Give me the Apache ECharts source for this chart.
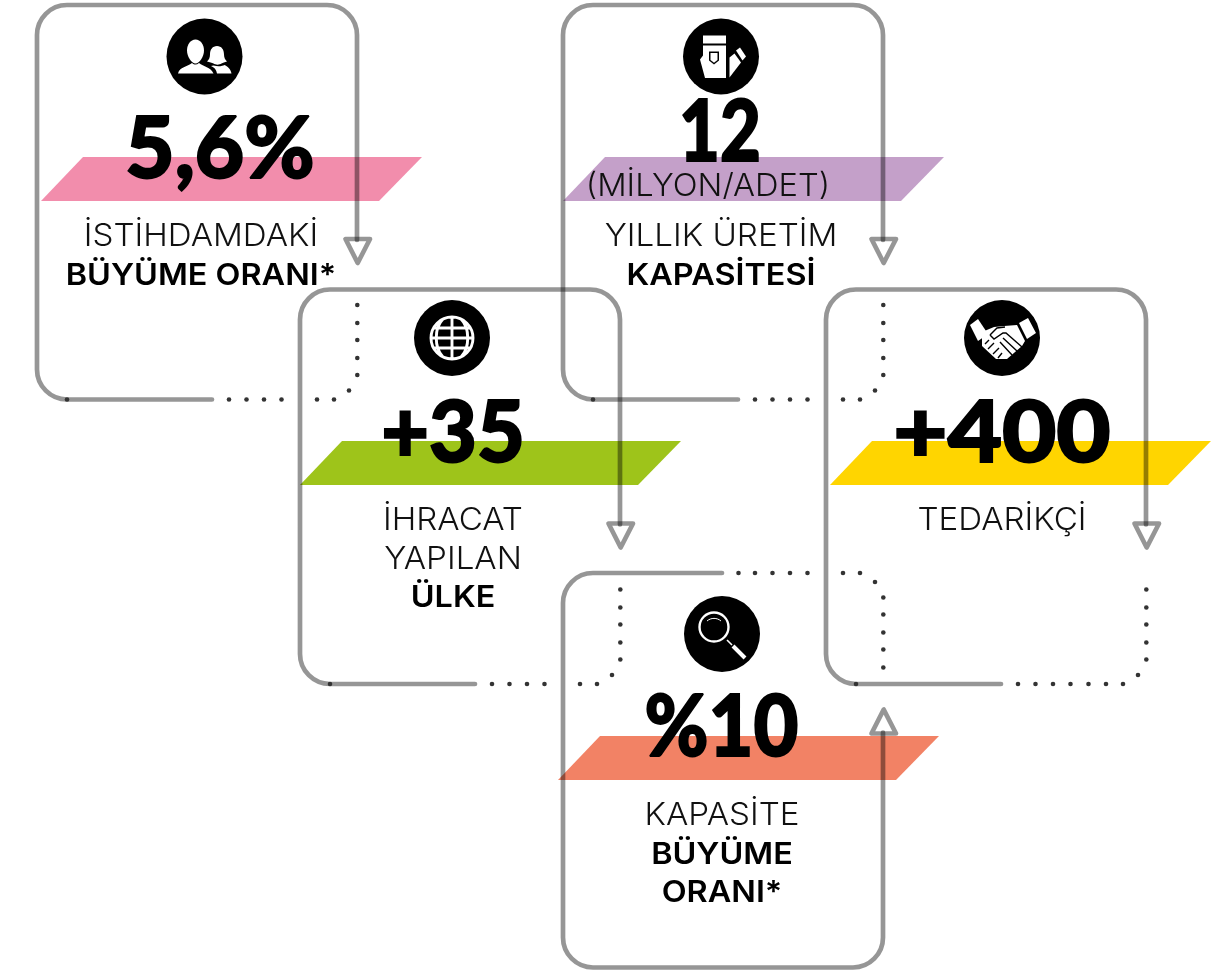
<!DOCTYPE html>
<html>
<head>
<meta charset="utf-8">
<script src="https://cdn.jsdelivr.net/npm/echarts@6/dist/echarts.min.js"></script>
<style>
html, body { margin: 0; padding: 0; background: #fff; }
#main { width: 1227px; height: 972px; }
</style>
</head>
<body>
<div id="main"></div>
<script>
// veriler
var cards = [0, 1, 2, 3, 4];
var values = ['5,6%', '+35', '12', '+400', '%10'];
var unitLines = ['', '', '(MİLYON/ADET)', '', ''];
var lightLines = [['İSTİHDAMDAKİ'], ['İHRACAT', 'YAPILAN'], ['YILLIK ÜRETİM'], ['TEDARİKÇİ'], ['KAPASİTE']];
var boldLines = [['BÜYÜME ORANI*'], ['ÜLKE'], ['KAPASİTESİ'], [], ['BÜYÜME', 'ORANI*']];

// yerlesim
var barColors = ['#F28DAC', '#9EC41A', '#C4A0C9', '#FFD500', '#F28265'];
var frameX = [0, 263, 526, 789, 526];
var frameY = [0, 284.5, 0, 284.5, 972.5];
var frameFlip = [1, 1, 1, 1, -1];
var barX = [41, 300, 563, 830, 558];
var barY = [157, 441, 157, 441, 736];
var centerX = [201, 453, 721, 1002, 722];
var iconX = [204.5, 452, 721, 1002, 722];
var iconY = [56.5, 338, 56.5, 338, 634];
var valueX = [220, 453, 720, 1002, 721.5];
var valueY = [150, 434, 133, 434, 728];
var valueScale = [0.99, 0.96, 0.82, 1.09, 0.9];
var labelY = [237, 521, 237, 521, 816];
var lineGap = 38.5;
var unitX = 708, unitY = 187;

var LINE = 'rgba(0,0,0,0.41)';
var DOT = '#333';
var FONT = 'Inter, "Noto Sans", sans-serif';
var VALUE_FONT = 'Lato, Inter, sans-serif';

var framePath = 'M212,399.5 L67,399.5 A30,30 0 0 1 37,369.5 L37,35 A30,30 0 0 1 67,5 L327,5 A30,30 0 0 1 357,35 L357,240';
var framePathShort = 'M196,399.5 L67,399.5 A30,30 0 0 1 37,369.5 L37,35 A30,30 0 0 1 67,5 L327,5 A30,30 0 0 1 357,35 L357,240';
var arrowPath = 'M345.5,239 L370,239 L357.7,263 Z';
var dotsBase = [[229, 399.5], [246.5, 399.5], [264, 399.5], [281.5, 399.5], [317, 399.5], [334, 399.5], [349, 390.5],
    [357.3, 375], [357.3, 358], [357.3, 340], [357.3, 323], [357.3, 305]];
var dotStart = [67, 399.5];
var dotsExtra = [[299.5, 399.5]]; // diger kartlarda cizginin altinda kaliyor
var dotShort = [212.5, 399.5];

var iconShapes = [
    // insanlar
    [{ d: 'M-9,-17 C-14,-17 -17.5,-12 -17.5,-6 C-17.5,0 -13,7 -9,7 C-5,7 -0.5,0 -0.5,-6 C-0.5,-12 -4,-17 -9,-17 Z' },
     { d: 'M-26.5,17 C-25,10.5 -17,10 -12.5,6.5 C-10,8.5 -8,8.5 -5.5,6.5 C-1,10 6,10.5 9,17 Z' },
     { d: 'M12.5,-10.5 C8,-10.5 5.5,-7 5.5,-2 C5.5,1 4.5,3 2.5,5 C5,6 7.5,6 9,7 C11,8.5 15,8.5 17,7 C18.5,6 20,6 22.5,5 C20.5,3 19.5,1 19.5,-2 C19.5,-7 17,-10.5 12.5,-10.5 Z' },
     { d: 'M9,9 C14,10.5 18,9.5 20,8.5 C23,10 26,12 27,17 L12.5,17 C12,14 10.5,11 6.5,9.5 Z' }],
    // dunya
    [{ s: 'M-21,0 A21,21 0 1 1 21,0 A21,21 0 1 1 -21,0 Z M0,-21 L0,21 M-21,0 L21,0 M-18.5,-10 L18.5,-10 M-18.5,10 L18.5,10 M-9,-19 C-18,-10 -18,10 -9,19 M9,-19 C18,-10 18,10 9,19', w: 2.9 }],
    // kavanoz
    [{ d: 'M-18,-21 L5,-21 L5,-13 L-18,-13 Z' },
     { d: 'M-18,-11 L5,-11 L5,21.5 L-16,21.5 L-21,3 L-18,-1 Z M-12,-5 L-12,4 L-7,8 L-2,4 L-2,-5 Z' },
     { d: 'M-10.5,-3.5 L-3.5,-3.5 L-3.5,3.5 L-7,6.2 L-10.5,3.5 Z' },
     { d: 'M8.5,1 L13.5,-3 L20,6 L8.5,21 Z' },
     { d: 'M15,-6 L19,-9 L25,0 L21.5,4 Z' }],
    // el sikisma
    [{ d: 'M-32,-13 L-24,-19 L-14,-4 L-24,3 Z' },
     { d: 'M17,-15 L26,-20 L34,-5 L25,1 Z' },
     { d: 'M-20,-6 L-8,-11 L2,-12 L15,-13 L23,3 L20,8 L5,21 L-6,21 L-20,8 Z' },
     { s: 'M-12,-3 L-5,-10 L3,-11 M-12,-3 L-8,1 L1,-5 L4,-5 L20,9 M1,0 L15,13 M-2,4 L10,17', w: 1.4, k: true },
     { s: 'M-17,6 L-13,2 M-14,11 L-8,5 M-9,16 L-3,10 M-4,20 L0,15', w: 1.4, k: true }],
    // buyutec
    [{ s: 'M-22.5,-7 A14.5,14.5 0 1 1 6.5,-7 A14.5,14.5 0 1 1 -22.5,-7 Z', w: 2.4 },
     { s: 'M-15,-13 C-11,-16.5 -5,-16.5 -1,-13', w: 1 },
     { s: 'M5,6 L10,11', w: 1.6 },
     { s: 'M11,12 L23,24', w: 4 }]
];

function makeText(x, y, text, size, weight, sx, color, family) {
    return {
        type: 'text', x: x, y: y, scaleX: sx,
        style: { x: 0, y: 0, text: text, fill: color, fontFamily: family || FONT, fontWeight: weight, fontSize: size, align: 'center', verticalAlign: 'middle' }
    };
}

function renderCard(params) {
    var i = params.dataIndex;
    var children = [];
    var flipped = frameFlip[i] < 0;

    // renkli serit
    var bx = barX[i], by = barY[i];
    children.push({
        type: 'polygon',
        shape: { points: [[bx + 42, by], [bx + 381, by], [bx + 338, by + 44], [bx, by + 44]] },
        style: { fill: barColors[i] }
    });

    // cerceve + ok + noktalar
    var dots = dotsBase.concat(flipped ? [dotShort] : [dotStart]);
    if (i === 3) dots = dots.concat(dotsExtra);
    var frameKids = [
        { type: 'path', shape: { pathData: flipped ? framePathShort : framePath }, style: { fill: null, stroke: LINE, lineWidth: 4.7, lineCap: 'round' } },
        { type: 'path', shape: { pathData: arrowPath }, style: { fill: null, stroke: LINE, lineWidth: 4.7, lineJoin: 'round' } }
    ];
    dots.forEach(function (p) {
        frameKids.push({ type: 'circle', shape: { cx: p[0], cy: p[1], r: 2.3 }, style: { fill: DOT } });
    });
    children.push({ type: 'group', x: frameX[i], y: frameY[i], scaleY: frameFlip[i], children: frameKids });

    // ikon
    var iconKids = [{ type: 'circle', shape: { cx: 0, cy: 0, r: 38 }, style: { fill: '#000' } }];
    iconShapes[i].forEach(function (s) {
        iconKids.push(s.d
            ? { type: 'path', shape: { pathData: s.d }, style: { fill: '#fff', fillRule: 'evenodd' } }
            : { type: 'path', shape: { pathData: s.s }, style: { fill: null, stroke: s.k ? '#000' : '#fff', lineWidth: s.w, lineCap: 'butt' } });
    });
    children.push({ type: 'group', x: iconX[i], y: iconY[i], children: iconKids });

    // buyuk deger (biraz kalinlastirildi)
    var valueText = makeText(valueX[i], valueY[i], values[i], 86, 900, valueScale[i], '#000', VALUE_FONT);
    valueText.style.stroke = '#000';
    valueText.style.lineWidth = 2;
    children.push(valueText);

    // birim
    if (unitLines[i]) {
        children.push(makeText(unitX, unitY, unitLines[i], 31, 300, 1.055, '#111'));
    }

    // etiketler
    var y = labelY[i];
    lightLines[i].forEach(function (t) {
        children.push(makeText(centerX[i], y, t, 31, 300, 1.07, '#111'));
        y += lineGap;
    });
    boldLines[i].forEach(function (t) {
        children.push(makeText(centerX[i], y, t, 30, 600, 1.08, '#000'));
        y += lineGap;
    });

    return { type: 'group', children: children };
}

var chart = echarts.init(document.getElementById('main'));
chart.setOption({
    backgroundColor: '#fff',
    animation: false,
    series: [{
        type: 'custom',
        coordinateSystem: 'none',
        silent: true,
        data: cards,
        renderItem: renderCard
    }]
});
</script>
</body>
</html>
